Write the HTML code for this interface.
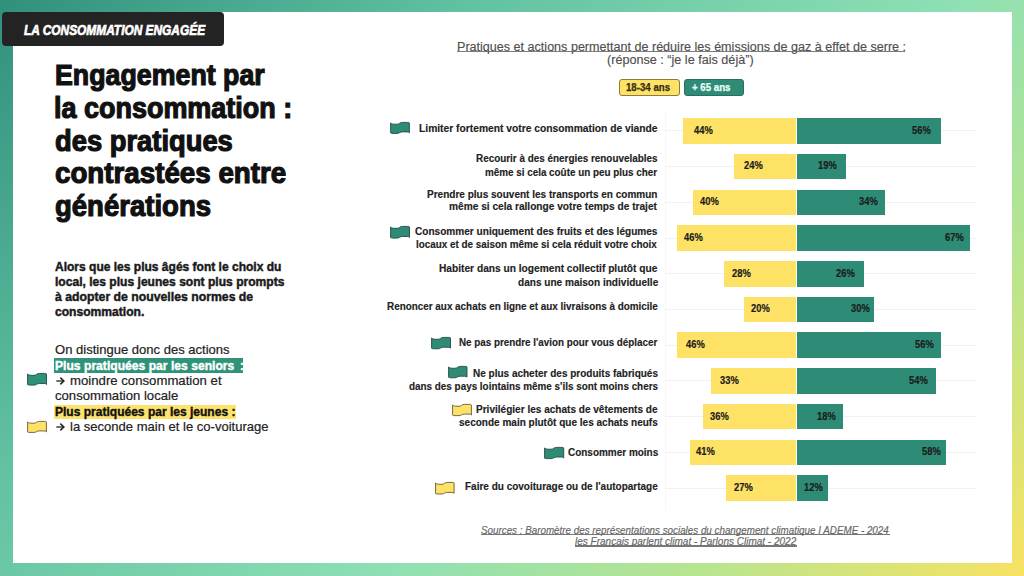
<!DOCTYPE html>
<html><head><meta charset="utf-8"><style>
*{margin:0;padding:0;box-sizing:border-box}
html,body{width:1024px;height:576px;overflow:hidden}
body{position:relative;font-family:"Liberation Sans", sans-serif;background:linear-gradient(135deg,#31907c 0%,#62c2a2 30%,#8ee0b4 60%,#b9e58e 80%,#f8e262 100%)}
.card{position:absolute;left:13px;top:12px;width:999px;height:551px;background:#fff}
.lab{position:absolute;left:2px;top:12px;width:222px;height:33.5px;background:#232323;border-radius:4px}
.t{position:absolute;white-space:nowrap;transform-origin:0 0}
.g{position:absolute;left:665px;width:311px;height:1px;background:#f1f1f1}
.b{position:absolute;height:25.5px}
.y{background:#fee266}
.gr{background:#2e8c76}
.f{position:absolute;overflow:visible}
.hl{position:absolute}
.bd{position:absolute;border-radius:3px}
.ul{position:absolute;height:1px}
</style></head><body>
<div class="card"></div>
<div style="position:absolute;left:665px;top:111px;width:1px;height:400px;background:#f6f6f6"></div>
<div class="lab"></div>
<div class="hl" style="left:53.9px;top:357.9px;width:189.5px;height:14.7px;background:#2f9279"></div>
<div class="hl" style="left:53.9px;top:404.8px;width:182.6px;height:14.7px;background:#fde36b"></div>
<div class="bd" style="left:619.4px;top:79px;width:60.2px;height:16.8px;background:#fee266;border:1px solid #8a7c3c"></div>
<div class="bd" style="left:683.8px;top:79px;width:60.1px;height:16.8px;background:#2e8c76;border:1px solid #2a6e5e"></div>
<div class="ul" style="left:457.2px;top:51.2px;width:448.3px;height:1.3px;background:#7c7c7c"></div>
<div class="ul" style="left:481.3px;top:534px;width:408.7px;height:1.2px;background:#777"></div>
<div class="ul" style="left:575px;top:545.4px;width:221.8px;height:1.2px;background:#777"></div>
<div class="g" style="top:130.35px"></div>
<div class="g" style="top:166.07px"></div>
<div class="g" style="top:201.80px"></div>
<div class="g" style="top:237.53px"></div>
<div class="g" style="top:273.25px"></div>
<div class="g" style="top:308.98px"></div>
<div class="g" style="top:344.70px"></div>
<div class="g" style="top:380.43px"></div>
<div class="g" style="top:416.15px"></div>
<div class="g" style="top:451.88px"></div>
<div class="g" style="top:487.60px"></div>
<div class="b y" style="left:682.53px;top:118.10px;width:113.17px"></div>
<div class="b gr" style="left:797.20px;top:118.10px;width:144.03px"></div>
<div class="b y" style="left:733.97px;top:153.82px;width:61.73px"></div>
<div class="b gr" style="left:797.20px;top:153.82px;width:48.87px"></div>
<div class="b y" style="left:692.82px;top:189.55px;width:102.88px"></div>
<div class="b gr" style="left:797.20px;top:189.55px;width:87.45px"></div>
<div class="b y" style="left:677.39px;top:225.28px;width:118.31px"></div>
<div class="b gr" style="left:797.20px;top:225.28px;width:172.32px"></div>
<div class="b y" style="left:723.68px;top:261.00px;width:72.02px"></div>
<div class="b gr" style="left:797.20px;top:261.00px;width:66.87px"></div>
<div class="b y" style="left:744.26px;top:296.73px;width:51.44px"></div>
<div class="b gr" style="left:797.20px;top:296.73px;width:77.16px"></div>
<div class="b y" style="left:677.39px;top:332.45px;width:118.31px"></div>
<div class="b gr" style="left:797.20px;top:332.45px;width:144.03px"></div>
<div class="b y" style="left:710.82px;top:368.18px;width:84.88px"></div>
<div class="b gr" style="left:797.20px;top:368.18px;width:138.89px"></div>
<div class="b y" style="left:703.11px;top:403.90px;width:92.59px"></div>
<div class="b gr" style="left:797.20px;top:403.90px;width:46.30px"></div>
<div class="b y" style="left:690.25px;top:439.62px;width:105.45px"></div>
<div class="b gr" style="left:797.20px;top:439.62px;width:149.18px"></div>
<div class="b y" style="left:726.26px;top:475.35px;width:69.44px"></div>
<div class="b gr" style="left:797.20px;top:475.35px;width:30.86px"></div>
<div class="t" style="left:693.90px;top:125.00px;font-size:10.5px;line-height:10.5px;font-weight:700;font-style:normal;color:#1c1c1c;transform:scaleX(0.8903);-webkit-text-stroke:0.2px #1c1c1c;">44%</div>
<div class="t" style="left:912.40px;top:125.00px;font-size:10.5px;line-height:10.5px;font-weight:700;font-style:normal;color:#1c1c1c;transform:scaleX(0.8903);-webkit-text-stroke:0.2px #1c1c1c;">56%</div>
<div class="t" style="left:743.80px;top:160.00px;font-size:10.5px;line-height:10.5px;font-weight:700;font-style:normal;color:#1c1c1c;transform:scaleX(0.8903);-webkit-text-stroke:0.2px #1c1c1c;">24%</div>
<div class="t" style="left:818.30px;top:160.00px;font-size:10.5px;line-height:10.5px;font-weight:700;font-style:normal;color:#1c1c1c;transform:scaleX(0.8903);-webkit-text-stroke:0.2px #1c1c1c;">19%</div>
<div class="t" style="left:699.70px;top:196.00px;font-size:10.5px;line-height:10.5px;font-weight:700;font-style:normal;color:#1c1c1c;transform:scaleX(0.8903);-webkit-text-stroke:0.2px #1c1c1c;">40%</div>
<div class="t" style="left:859.40px;top:196.00px;font-size:10.5px;line-height:10.5px;font-weight:700;font-style:normal;color:#1c1c1c;transform:scaleX(0.8903);-webkit-text-stroke:0.2px #1c1c1c;">34%</div>
<div class="t" style="left:683.90px;top:232.00px;font-size:10.5px;line-height:10.5px;font-weight:700;font-style:normal;color:#1c1c1c;transform:scaleX(0.8903);-webkit-text-stroke:0.2px #1c1c1c;">46%</div>
<div class="t" style="left:945.40px;top:232.00px;font-size:10.5px;line-height:10.5px;font-weight:700;font-style:normal;color:#1c1c1c;transform:scaleX(0.8903);-webkit-text-stroke:0.2px #1c1c1c;">67%</div>
<div class="t" style="left:731.70px;top:268.00px;font-size:10.5px;line-height:10.5px;font-weight:700;font-style:normal;color:#1c1c1c;transform:scaleX(0.8903);-webkit-text-stroke:0.2px #1c1c1c;">28%</div>
<div class="t" style="left:836.10px;top:268.00px;font-size:10.5px;line-height:10.5px;font-weight:700;font-style:normal;color:#1c1c1c;transform:scaleX(0.8903);-webkit-text-stroke:0.2px #1c1c1c;">26%</div>
<div class="t" style="left:751.30px;top:303.00px;font-size:10.5px;line-height:10.5px;font-weight:700;font-style:normal;color:#1c1c1c;transform:scaleX(0.8903);-webkit-text-stroke:0.2px #1c1c1c;">20%</div>
<div class="t" style="left:850.50px;top:303.00px;font-size:10.5px;line-height:10.5px;font-weight:700;font-style:normal;color:#1c1c1c;transform:scaleX(0.8903);-webkit-text-stroke:0.2px #1c1c1c;">30%</div>
<div class="t" style="left:686.00px;top:339.00px;font-size:10.5px;line-height:10.5px;font-weight:700;font-style:normal;color:#1c1c1c;transform:scaleX(0.8903);-webkit-text-stroke:0.2px #1c1c1c;">46%</div>
<div class="t" style="left:914.70px;top:339.00px;font-size:10.5px;line-height:10.5px;font-weight:700;font-style:normal;color:#1c1c1c;transform:scaleX(0.8903);-webkit-text-stroke:0.2px #1c1c1c;">56%</div>
<div class="t" style="left:719.60px;top:375.00px;font-size:10.5px;line-height:10.5px;font-weight:700;font-style:normal;color:#1c1c1c;transform:scaleX(0.8903);-webkit-text-stroke:0.2px #1c1c1c;">33%</div>
<div class="t" style="left:908.80px;top:375.00px;font-size:10.5px;line-height:10.5px;font-weight:700;font-style:normal;color:#1c1c1c;transform:scaleX(0.8903);-webkit-text-stroke:0.2px #1c1c1c;">54%</div>
<div class="t" style="left:709.80px;top:411.00px;font-size:10.5px;line-height:10.5px;font-weight:700;font-style:normal;color:#1c1c1c;transform:scaleX(0.8903);-webkit-text-stroke:0.2px #1c1c1c;">36%</div>
<div class="t" style="left:816.70px;top:411.00px;font-size:10.5px;line-height:10.5px;font-weight:700;font-style:normal;color:#1c1c1c;transform:scaleX(0.8903);-webkit-text-stroke:0.2px #1c1c1c;">18%</div>
<div class="t" style="left:695.70px;top:446.00px;font-size:10.5px;line-height:10.5px;font-weight:700;font-style:normal;color:#1c1c1c;transform:scaleX(0.8903);-webkit-text-stroke:0.2px #1c1c1c;">41%</div>
<div class="t" style="left:922.40px;top:446.00px;font-size:10.5px;line-height:10.5px;font-weight:700;font-style:normal;color:#1c1c1c;transform:scaleX(0.8903);-webkit-text-stroke:0.2px #1c1c1c;">58%</div>
<div class="t" style="left:733.60px;top:482.00px;font-size:10.5px;line-height:10.5px;font-weight:700;font-style:normal;color:#1c1c1c;transform:scaleX(0.8903);-webkit-text-stroke:0.2px #1c1c1c;">27%</div>
<div class="t" style="left:803.60px;top:482.00px;font-size:10.5px;line-height:10.5px;font-weight:700;font-style:normal;color:#1c1c1c;transform:scaleX(0.8903);-webkit-text-stroke:0.2px #1c1c1c;">12%</div>
<svg class="f" style="left:390.2px;top:122.2px;width:20.0px;height:11.799999999999997px" viewBox="0 0 20 12.4" preserveAspectRatio="none"><path d="M0.6,1 C1.5,2 3,2.3 5,2.3 L7,2.3 C9.6,2.3 9.6,0.4 12.5,0.4 L17.5,0.4 C18.5,0.4 19.2,0.5 19.4,1 L19.4,11.4 C19,10.6 18,10.4 17,10.4 L12.5,10.4 C9.6,10.4 9.6,12 7,12 L3,12 C1.6,12 0.9,11.8 0.6,11.5 Z" fill="#2e8c76" stroke="#24483f" stroke-width="0.9" stroke-linejoin="round"/></svg>
<svg class="f" style="left:390.1px;top:226.3px;width:20.099999999999966px;height:12.5px" viewBox="0 0 20 12.4" preserveAspectRatio="none"><path d="M0.6,1 C1.5,2 3,2.3 5,2.3 L7,2.3 C9.6,2.3 9.6,0.4 12.5,0.4 L17.5,0.4 C18.5,0.4 19.2,0.5 19.4,1 L19.4,11.4 C19,10.6 18,10.4 17,10.4 L12.5,10.4 C9.6,10.4 9.6,12 7,12 L3,12 C1.6,12 0.9,11.8 0.6,11.5 Z" fill="#2e8c76" stroke="#24483f" stroke-width="0.9" stroke-linejoin="round"/></svg>
<svg class="f" style="left:431.1px;top:337.4px;width:20.099999999999966px;height:12.200000000000045px" viewBox="0 0 20 12.4" preserveAspectRatio="none"><path d="M0.6,1 C1.5,2 3,2.3 5,2.3 L7,2.3 C9.6,2.3 9.6,0.4 12.5,0.4 L17.5,0.4 C18.5,0.4 19.2,0.5 19.4,1 L19.4,11.4 C19,10.6 18,10.4 17,10.4 L12.5,10.4 C9.6,10.4 9.6,12 7,12 L3,12 C1.6,12 0.9,11.8 0.6,11.5 Z" fill="#2e8c76" stroke="#24483f" stroke-width="0.9" stroke-linejoin="round"/></svg>
<svg class="f" style="left:448.0px;top:366.3px;width:19.600000000000023px;height:12.199999999999989px" viewBox="0 0 20 12.4" preserveAspectRatio="none"><path d="M0.6,1 C1.5,2 3,2.3 5,2.3 L7,2.3 C9.6,2.3 9.6,0.4 12.5,0.4 L17.5,0.4 C18.5,0.4 19.2,0.5 19.4,1 L19.4,11.4 C19,10.6 18,10.4 17,10.4 L12.5,10.4 C9.6,10.4 9.6,12 7,12 L3,12 C1.6,12 0.9,11.8 0.6,11.5 Z" fill="#2e8c76" stroke="#24483f" stroke-width="0.9" stroke-linejoin="round"/></svg>
<svg class="f" style="left:452.4px;top:404.2px;width:20.0px;height:12.0px" viewBox="0 0 20 12.4" preserveAspectRatio="none"><path d="M0.6,1 C1.5,2 3,2.3 5,2.3 L7,2.3 C9.6,2.3 9.6,0.4 12.5,0.4 L17.5,0.4 C18.5,0.4 19.2,0.5 19.4,1 L19.4,11.4 C19,10.6 18,10.4 17,10.4 L12.5,10.4 C9.6,10.4 9.6,12 7,12 L3,12 C1.6,12 0.9,11.8 0.6,11.5 Z" fill="#fee266" stroke="#5e5838" stroke-width="0.9" stroke-linejoin="round"/></svg>
<svg class="f" style="left:543.6px;top:447.0px;width:20.299999999999955px;height:12.0px" viewBox="0 0 20 12.4" preserveAspectRatio="none"><path d="M0.6,1 C1.5,2 3,2.3 5,2.3 L7,2.3 C9.6,2.3 9.6,0.4 12.5,0.4 L17.5,0.4 C18.5,0.4 19.2,0.5 19.4,1 L19.4,11.4 C19,10.6 18,10.4 17,10.4 L12.5,10.4 C9.6,10.4 9.6,12 7,12 L3,12 C1.6,12 0.9,11.8 0.6,11.5 Z" fill="#2e8c76" stroke="#24483f" stroke-width="0.9" stroke-linejoin="round"/></svg>
<svg class="f" style="left:435.1px;top:481.9px;width:19.69999999999999px;height:12.400000000000034px" viewBox="0 0 20 12.4" preserveAspectRatio="none"><path d="M0.6,1 C1.5,2 3,2.3 5,2.3 L7,2.3 C9.6,2.3 9.6,0.4 12.5,0.4 L17.5,0.4 C18.5,0.4 19.2,0.5 19.4,1 L19.4,11.4 C19,10.6 18,10.4 17,10.4 L12.5,10.4 C9.6,10.4 9.6,12 7,12 L3,12 C1.6,12 0.9,11.8 0.6,11.5 Z" fill="#fee266" stroke="#5e5838" stroke-width="0.9" stroke-linejoin="round"/></svg>
<svg class="f" style="left:26.9px;top:373.2px;width:20.1px;height:12.5px" viewBox="0 0 20 12.4" preserveAspectRatio="none"><path d="M0.6,1 C1.5,2 3,2.3 5,2.3 L7,2.3 C9.6,2.3 9.6,0.4 12.5,0.4 L17.5,0.4 C18.5,0.4 19.2,0.5 19.4,1 L19.4,11.4 C19,10.6 18,10.4 17,10.4 L12.5,10.4 C9.6,10.4 9.6,12 7,12 L3,12 C1.6,12 0.9,11.8 0.6,11.5 Z" fill="#2e9279" stroke="#24483f" stroke-width="0.9" stroke-linejoin="round"/></svg>
<svg class="f" style="left:27.0px;top:421.1px;width:20.0px;height:11.799999999999955px" viewBox="0 0 20 12.4" preserveAspectRatio="none"><path d="M0.6,1 C1.5,2 3,2.3 5,2.3 L7,2.3 C9.6,2.3 9.6,0.4 12.5,0.4 L17.5,0.4 C18.5,0.4 19.2,0.5 19.4,1 L19.4,11.4 C19,10.6 18,10.4 17,10.4 L12.5,10.4 C9.6,10.4 9.6,12 7,12 L3,12 C1.6,12 0.9,11.8 0.6,11.5 Z" fill="#fee266" stroke="#5e5838" stroke-width="0.9" stroke-linejoin="round"/></svg>
<svg class="f" style="left:55.6px;top:377.0px;width:9px;height:8px" viewBox="0 0 9 8"><path d="M0.3,4 H7.6" stroke="#222" stroke-width="1.3" fill="none"/><path d="M4.3,0.6 L7.9,4 L4.3,7.4" stroke="#222" stroke-width="1.5" fill="none" stroke-linejoin="miter"/></svg>
<svg class="f" style="left:55.6px;top:423.1px;width:9px;height:8px" viewBox="0 0 9 8"><path d="M0.3,4 H7.6" stroke="#222" stroke-width="1.3" fill="none"/><path d="M4.3,0.6 L7.9,4 L4.3,7.4" stroke="#222" stroke-width="1.5" fill="none" stroke-linejoin="miter"/></svg>
<div class="t" style="left:23.95px;top:22.00px;font-size:15px;line-height:15px;font-weight:700;font-style:italic;color:#ffffff;transform:scaleX(0.7930);-webkit-text-stroke:0.7px #fff;">LA CONSOMMATION ENGAGÉE</div>
<div class="t" style="left:55.04px;top:60.00px;font-size:29.5px;line-height:29.5px;font-weight:700;font-style:normal;color:#111111;transform:scaleX(0.9076);-webkit-text-stroke:1.2px #111;">Engagement par</div>
<div class="t" style="left:54.07px;top:93.00px;font-size:29.5px;line-height:29.5px;font-weight:700;font-style:normal;color:#111111;transform:scaleX(0.9140);-webkit-text-stroke:1.2px #111;">la consommation :</div>
<div class="t" style="left:54.97px;top:126.00px;font-size:29.5px;line-height:29.5px;font-weight:700;font-style:normal;color:#111111;transform:scaleX(0.9270);-webkit-text-stroke:1.2px #111;">des pratiques</div>
<div class="t" style="left:54.56px;top:158.00px;font-size:29.5px;line-height:29.5px;font-weight:700;font-style:normal;color:#111111;transform:scaleX(0.9402);-webkit-text-stroke:1.2px #111;">contrastées entre</div>
<div class="t" style="left:54.67px;top:191.00px;font-size:29.5px;line-height:29.5px;font-weight:700;font-style:normal;color:#111111;transform:scaleX(0.9331);-webkit-text-stroke:1.2px #111;">générations</div>
<div class="t" style="left:54.52px;top:261.00px;font-size:12.4px;line-height:12.4px;font-weight:700;font-style:normal;color:#1a1a1a;transform:scaleX(0.9700);-webkit-text-stroke:0.45px #1a1a1a;">Alors que les plus âgés font le choix du</div>
<div class="t" style="left:54.52px;top:276.00px;font-size:12.4px;line-height:12.4px;font-weight:700;font-style:normal;color:#1a1a1a;transform:scaleX(0.9744);-webkit-text-stroke:0.45px #1a1a1a;">local, les plus jeunes sont plus prompts</div>
<div class="t" style="left:54.52px;top:291.00px;font-size:12.4px;line-height:12.4px;font-weight:700;font-style:normal;color:#1a1a1a;transform:scaleX(0.9889);-webkit-text-stroke:0.45px #1a1a1a;">à adopter de nouvelles normes de</div>
<div class="t" style="left:54.52px;top:306.00px;font-size:12.4px;line-height:12.4px;font-weight:700;font-style:normal;color:#1a1a1a;transform:scaleX(0.9751);-webkit-text-stroke:0.45px #1a1a1a;">consommation.</div>
<div class="t" style="left:54.90px;top:344.00px;font-size:12.6px;line-height:12.6px;font-weight:400;font-style:normal;color:#222222;transform:scaleX(1.0349);-webkit-text-stroke:0.2px #222;">On distingue donc des actions</div>
<div class="t" style="left:55.10px;top:360.00px;font-size:12.6px;line-height:12.6px;font-weight:700;font-style:normal;color:#ffffff;transform:scaleX(0.9631);-webkit-text-stroke:0.4px #fff;">Plus pratiquées par les seniors</div>
<div class="t" style="left:239.70px;top:360.00px;font-size:12.6px;line-height:12.6px;font-weight:700;font-style:normal;color:#ffffff;transform:scaleX(0.9000);-webkit-text-stroke:0.4px #fff;">:</div>
<div class="t" style="left:70.30px;top:375.00px;font-size:12.6px;line-height:12.6px;font-weight:400;font-style:normal;color:#222222;transform:scaleX(1.0461);-webkit-text-stroke:0.2px #222;">moindre consommation et</div>
<div class="t" style="left:55.00px;top:390.00px;font-size:12.6px;line-height:12.6px;font-weight:400;font-style:normal;color:#222222;transform:scaleX(1.0415);-webkit-text-stroke:0.2px #222;">consommation locale</div>
<div class="t" style="left:55.10px;top:406.00px;font-size:12.6px;line-height:12.6px;font-weight:700;font-style:normal;color:#111111;transform:scaleX(0.9548);-webkit-text-stroke:0.4px #111;">Plus pratiquées par les jeunes :</div>
<div class="t" style="left:69.80px;top:421.00px;font-size:12.6px;line-height:12.6px;font-weight:400;font-style:normal;color:#222222;transform:scaleX(1.0349);-webkit-text-stroke:0.2px #222;">la seconde main et le co-voiturage</div>
<div class="t" style="left:456.87px;top:41.00px;font-size:12.5px;line-height:12.5px;font-weight:400;font-style:normal;color:#4f4f4f;transform:scaleX(1.0056);-webkit-text-stroke:0.15px #4f4f4f;">Pratiques et actions permettant de réduire les émissions de gaz à effet de serre :</div>
<div class="t" style="left:607.48px;top:54.00px;font-size:12.5px;line-height:12.5px;font-weight:400;font-style:normal;color:#4f4f4f;transform:scaleX(1.0097);-webkit-text-stroke:0.15px #4f4f4f;">(réponse : “je le fais déjà”)</div>
<div class="t" style="left:625.92px;top:82.00px;font-size:10.8px;line-height:10.8px;font-weight:700;font-style:normal;color:#332e14;transform:scaleX(0.8951);-webkit-text-stroke:0.25px #332e14;">18-34 ans</div>
<div class="t" style="left:692.23px;top:82.00px;font-size:10.8px;line-height:10.8px;font-weight:700;font-style:normal;color:#eafff6;transform:scaleX(0.8960);-webkit-text-stroke:0.25px #eafff6;">+ 65 ans</div>
<div class="t" style="left:481.38px;top:526.00px;font-size:10px;line-height:10px;font-weight:400;font-style:italic;color:#666666;transform:scaleX(0.9816);-webkit-text-stroke:0.15px #666;">Sources : Baromètre des représentations sociales du changement climatique I ADEME - 2024</div>
<div class="t" style="left:575.08px;top:537.00px;font-size:10px;line-height:10px;font-weight:400;font-style:italic;color:#666666;transform:scaleX(1.0001);-webkit-text-stroke:0.15px #666;">les Français parlent climat - Parlons Climat - 2022</div>
<div class="t" style="left:419.27px;top:123.00px;font-size:11px;line-height:11px;font-weight:700;font-style:normal;color:#222222;transform:scaleX(0.9337);-webkit-text-stroke:0.15px #222;">Limiter fortement votre consommation de viande</div>
<div class="t" style="left:476.32px;top:153.00px;font-size:11px;line-height:11px;font-weight:700;font-style:normal;color:#222222;transform:scaleX(0.8996);-webkit-text-stroke:0.15px #222;">Recourir à des énergies renouvelables</div>
<div class="t" style="left:485.07px;top:167.00px;font-size:11px;line-height:11px;font-weight:700;font-style:normal;color:#222222;transform:scaleX(0.8961);-webkit-text-stroke:0.15px #222;">même si cela coûte un peu plus cher</div>
<div class="t" style="left:426.97px;top:189.00px;font-size:11px;line-height:11px;font-weight:700;font-style:normal;color:#222222;transform:scaleX(0.9108);-webkit-text-stroke:0.15px #222;">Prendre plus souvent les transports en commun</div>
<div class="t" style="left:449.47px;top:201.00px;font-size:11px;line-height:11px;font-weight:700;font-style:normal;color:#222222;transform:scaleX(0.9218);-webkit-text-stroke:0.15px #222;">même si cela rallonge votre temps de trajet</div>
<div class="t" style="left:415.38px;top:226.00px;font-size:11px;line-height:11px;font-weight:700;font-style:normal;color:#222222;transform:scaleX(0.9161);-webkit-text-stroke:0.15px #222;">Consommer uniquement des fruits et des légumes</div>
<div class="t" style="left:416.07px;top:239.00px;font-size:11px;line-height:11px;font-weight:700;font-style:normal;color:#222222;transform:scaleX(0.8974);-webkit-text-stroke:0.15px #222;">locaux et de saison même si cela réduit votre choix</div>
<div class="t" style="left:439.47px;top:263.00px;font-size:11px;line-height:11px;font-weight:700;font-style:normal;color:#222222;transform:scaleX(0.9256);-webkit-text-stroke:0.15px #222;">Habiter dans un logement collectif plutôt que</div>
<div class="t" style="left:517.58px;top:277.00px;font-size:11px;line-height:11px;font-weight:700;font-style:normal;color:#222222;transform:scaleX(0.9142);-webkit-text-stroke:0.15px #222;">dans une maison individuelle</div>
<div class="t" style="left:386.97px;top:301.00px;font-size:11px;line-height:11px;font-weight:700;font-style:normal;color:#222222;transform:scaleX(0.8987);-webkit-text-stroke:0.15px #222;">Renoncer aux achats en ligne et aux livraisons à domicile</div>
<div class="t" style="left:458.88px;top:337.00px;font-size:11px;line-height:11px;font-weight:700;font-style:normal;color:#222222;transform:scaleX(0.8926);-webkit-text-stroke:0.15px #222;">Ne pas prendre l'avion pour vous déplacer</div>
<div class="t" style="left:472.88px;top:368.00px;font-size:11px;line-height:11px;font-weight:700;font-style:normal;color:#222222;transform:scaleX(0.9087);-webkit-text-stroke:0.15px #222;">Ne plus acheter des produits fabriqués</div>
<div class="t" style="left:408.82px;top:381.00px;font-size:11px;line-height:11px;font-weight:700;font-style:normal;color:#222222;transform:scaleX(0.8986);-webkit-text-stroke:0.15px #222;">dans des pays lointains même s'ils sont moins chers</div>
<div class="t" style="left:476.32px;top:404.00px;font-size:11px;line-height:11px;font-weight:700;font-style:normal;color:#222222;transform:scaleX(0.9134);-webkit-text-stroke:0.15px #222;">Privilégier les achats de vêtements de</div>
<div class="t" style="left:459.07px;top:417.00px;font-size:11px;line-height:11px;font-weight:700;font-style:normal;color:#222222;transform:scaleX(0.9108);-webkit-text-stroke:0.15px #222;">seconde main plutôt que les achats neufs</div>
<div class="t" style="left:567.58px;top:447.00px;font-size:11px;line-height:11px;font-weight:700;font-style:normal;color:#222222;transform:scaleX(0.9059);-webkit-text-stroke:0.15px #222;">Consommer moins</div>
<div class="t" style="left:465.07px;top:481.00px;font-size:11px;line-height:11px;font-weight:700;font-style:normal;color:#222222;transform:scaleX(0.9081);-webkit-text-stroke:0.15px #222;">Faire du covoiturage ou de l'autopartage</div>
</body></html>
